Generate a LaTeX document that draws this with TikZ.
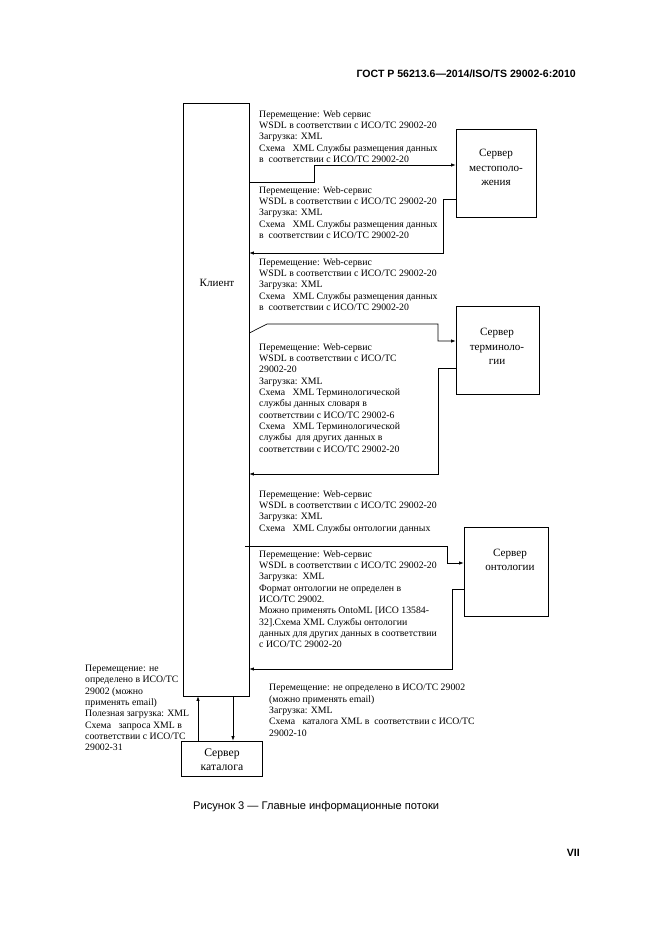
\documentclass[tikz,border=0pt]{standalone}
\usepackage{fontspec}
\setmainfont{Liberation Serif}
\newfontfamily\arialfont{Liberation Sans}
\usetikzlibrary{arrows.meta,calc}
\begin{document}
\begin{tikzpicture}[x=0.9pt,y=-0.9pt,
  box/.style={draw,line width=0.6pt,inner sep=0pt},
  flow/.style={line width=0.6pt},
  arr/.style={flow,-{Latex[length=4pt,width=3pt]}},
  info/.style={anchor=north west,inner sep=0pt,align=left,font=\fontsize{8.8}{10.2}\selectfont},
  srvlabel/.style={align=center,inner sep=0pt,font=\fontsize{10}{13}\selectfont}]
\useasboundingbox (0,0) rectangle (661,936);
% header, caption, page number
\node[anchor=base east,inner sep=0pt,font=\arialfont\bfseries\fontsize{9.5}{11}\selectfont] (header) at (576,77) {ГОСТ Р 56213.6—2014/ISO/TS 29002-6:2010};
\node[anchor=base west,inner sep=0pt,font=\arialfont\fontsize{10}{12}\selectfont] (caption) at (193,809) {Рисунок 3 — Главные информационные потоки};
\node[anchor=base east,inner sep=0pt,font=\arialfont\bfseries\fontsize{9.5}{11}\selectfont] (pagenum) at (580,856) {VII};
% boxes
\node[box,minimum width=59.4pt,minimum height=533.7pt] (client) at (216,399.5) {};
\node[font=\fontsize{10}{12}\selectfont,inner sep=0pt] (clientlabel) at (217,283) {Клиент};
\node[box,minimum width=72pt,minimum height=79.2pt] (locsrv) at (496,173) {};
\node[srvlabel] (loclabel) at (496,167.5) {Сервер\\местополо-\\жения};
\node[box,minimum width=74.7pt,minimum height=79.2pt] (termsrv) at (497.5,350) {};
\node[srvlabel] (termlabel) at (497,346.5) {Сервер\\терминоло-\\гии};
\node[box,minimum width=75.6pt,minimum height=80.1pt] (ontsrv) at (506,571.5) {};
\node[srvlabel] (ontlabel) at (510,560) {Сервер\\онтологии};
\node[box,minimum width=72.9pt,minimum height=31.5pt] (catsrv) at (221.5,758.5) {};
\node[srvlabel,font=\fontsize{10.5}{12.6}\selectfont] (catlabel) at (222,760) {Сервер\\каталога};
% flows
\draw[arr] (client.east |- 0,182) -- (314,182) -- (314,165) -- (locsrv.west |- 0,165);
\draw[arr] (locsrv.west |- 0,199) -- (443,199) -- (443,253) -- (client.east |- 0,253);
\draw[arr] (client.east |- 0,333) -- (267,324) -- (438,324) -- (438,341) -- (termsrv.west |- 0,341);
\draw[arr] (termsrv.west |- 0,368) -- (438,368) -- (438,474) -- (client.east |- 0,474);
\draw[arr] ($(client.east |- 0,546)+(-4,0)$) -- (447,546) -- (447,563) -- (ontsrv.west |- 0,563);
\draw[arr] (ontsrv.west |- 0,589) -- (452,589) -- (452,669) -- (client.east |- 0,669);
\draw[arr] (catsrv.north -| 198,0) -- (client.south -| 198,0);
\draw[arr] (client.south -| 233,0) -- (catsrv.north -| 233,0);
% texts
\node[info] (t1) at (259,110) {Перемещение: Web сервис\\
WSDL в соответствии с ИСО/ТС 29002-20\\
Загрузка: XML\\
Схема~~~XML Службы размещения данных\\
в~~соответствии с ИСО/ТС 29002-20};
\node[info] (t2) at (259,186) {Перемещение: Web-сервис\\
WSDL в соответствии с ИСО/ТС 29002-20\\
Загрузка: XML\\
Схема~~~XML Службы размещения данных\\
в~~соответствии с ИСО/ТС 29002-20};
\node[info] (t3) at (259,258) {Перемещение: Web-сервис\\
WSDL в соответствии с ИСО/ТС 29002-20\\
Загрузка: XML\\
Схема~~~XML Службы размещения данных\\
в~~соответствии с ИСО/ТС 29002-20};
\node[info] (t4) at (259,343) {Перемещение: Web-сервис\\
WSDL в соответствии с ИСО/ТС\\
29002-20\\
Загрузка: XML\\
Схема~~~XML Терминологической\\
службы данных словаря в\\
соответствии с ИСО/ТС 29002-6\\
Схема~~~XML Терминологической\\
службы~~для других данных в\\
соответствии с ИСО/ТС 29002-20};
\node[info] (t5) at (259,490) {Перемещение: Web-сервис\\
WSDL в соответствии с ИСО/ТС 29002-20\\
Загрузка: XML\\
Схема~~~XML Службы онтологии данных};
\node[info] (t6) at (259,550) {Перемещение: Web-сервис\\
WSDL в соответствии с ИСО/ТС 29002-20\\
Загрузка:~~XML\\
Формат онтологии не определен в\\
ИСО/ТС 29002.\\
Можно применять OntoML [ИСО 13584-\\
32].Схема XML Службы онтологии\\
данных для других данных в соответствии\\
с ИСО/ТС 29002-20};
\node[info] (t7) at (85,665) {Перемещение: не\\
определено в ИСО/ТС\\
29002 (можно\\
применять email)\\
Полезная загрузка: XML\\
Схема~~~запроса XML в\\
соответствии с ИСО/ТС\\
29002-31};
\node[info] (t8) at (269,684) {Перемещение: не определено в ИСО/ТС 29002\\
(можно применять email)\\
Загрузка: XML\\
Схема~~~каталога XML в~~соответствии с ИСО/ТС\\
29002-10};
\end{tikzpicture}
\end{document}
